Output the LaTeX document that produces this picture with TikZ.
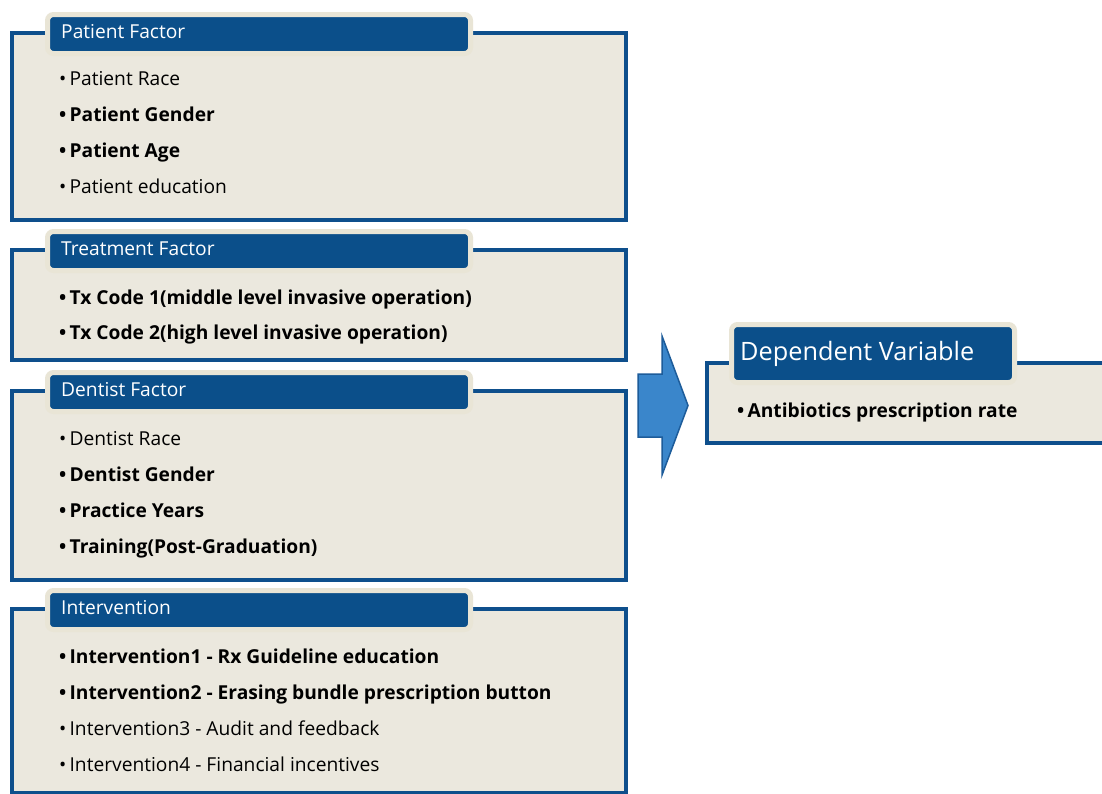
\documentclass[tikz,border=0pt]{standalone}
\usepackage{fontspec}
\setmainfont{Open Sans}
\definecolor{framec}{HTML}{0E4F8C}
\definecolor{tabc}{HTML}{0B4F8A}
\definecolor{beige}{HTML}{EBE8DE}
\definecolor{halo}{HTML}{E9E5D6}
\definecolor{arrowf}{HTML}{3A86CB}
\definecolor{arrowd}{HTML}{1D5C9A}
\tikzset{
  framebox/.style={draw=framec, fill=beige, line width=4pt, inner sep=0pt, anchor=north west},
  tabbox/.style={draw=halo, fill=tabc, line width=5pt, rounded corners=6pt, inner sep=0pt, anchor=north west, minimum width=423pt, minimum height=39pt},
  tabtext/.style={text=white, font=\fontsize{19.2}{21}\selectfont, anchor=base west, inner sep=0pt},
  item/.style={anchor=base west, inner sep=0pt, font=\fontsize{19.2}{21}\selectfont},
  itembf/.style={item, font=\fontsize{19.2}{21}\selectfont\bfseries},
}
\begin{document}
\begin{tikzpicture}[x=1pt,y=-1pt]
\clip (0,0) rectangle (1102,793);
\fill[white] (0,0) rectangle (1102,793);
% Patient
\node[framebox, minimum width=614pt, minimum height=187pt] (f1) at (10,31) {};
\node[tabbox] (t1) at (45,12) {};
\node[tabtext] (t1l) at (61,38.5) {Patient Factor};
\node[item] (a1) at (59,85) {•\,Patient Race};
\node[itembf] (a2) at (59,121) {•\,Patient Gender};
\node[itembf] (a3) at (59,157) {•\,Patient Age};
\node[item] (a4) at (59,193) {•\,Patient education};
% Treatment
\node[framebox, minimum width=614pt, minimum height=110pt] (f2) at (10,248) {};
\node[tabbox] (t2) at (45,229) {};
\node[tabtext] (t2l) at (61,255.5) {Treatment Factor};
\node[itembf] (b1) at (59,304) {•\,Tx Code 1(middle level invasive operation)};
\node[itembf] (b2) at (59,339) {•\,Tx Code 2(high level invasive operation)};
% Dentist
\node[framebox, minimum width=614pt, minimum height=189pt] (f3) at (10,389) {};
\node[tabbox] (t3) at (45,370) {};
\node[tabtext] (t3l) at (61,396.5) {Dentist Factor};
\node[item] (c1) at (59,445) {•\,Dentist Race};
\node[itembf] (c2) at (59,481) {•\,Dentist Gender};
\node[itembf] (c3) at (59,517) {•\,Practice Years};
\node[itembf] (c4) at (59,553) {•\,Training(Post-Graduation)};
% Intervention
\node[framebox, minimum width=614pt, minimum height=184pt] (f4) at (10,607) {};
\node[tabbox] (t4) at (45,588) {};
\node[tabtext] (t4l) at (61,614.5) {Intervention};
\node[itembf] (d1) at (59,663) {•\,Intervention1 - Rx Guideline education};
\node[itembf] (d2) at (59,699) {•\,Intervention2 - Erasing bundle prescription button};
\node[item] (d3) at (59,735) {•\,Intervention3 - Audit and feedback};
\node[item] (d4) at (59,771) {•\,Intervention4 - Financial incentives};
% Arrow
\draw[draw=arrowd, fill=arrowf, line width=1.5pt, line join=miter]
  (638,374) -- (662,374) -- (662,336) -- (688,405.5) -- (662,475) -- (662,437) -- (638,437) -- cycle;
% Dependent
\node[framebox, minimum width=420pt, minimum height=80pt] (f5) at (705,361) {};
\node[tabbox, minimum width=283pt, minimum height=58pt] (t5) at (729,322) {};
\node[tabtext, font=\fontsize{25.3}{28}\selectfont] (t5l) at (740,360) {Dependent Variable};
\node[itembf] (e1) at (737,417) {•\,Antibiotics prescription rate};
\end{tikzpicture}
\end{document}
